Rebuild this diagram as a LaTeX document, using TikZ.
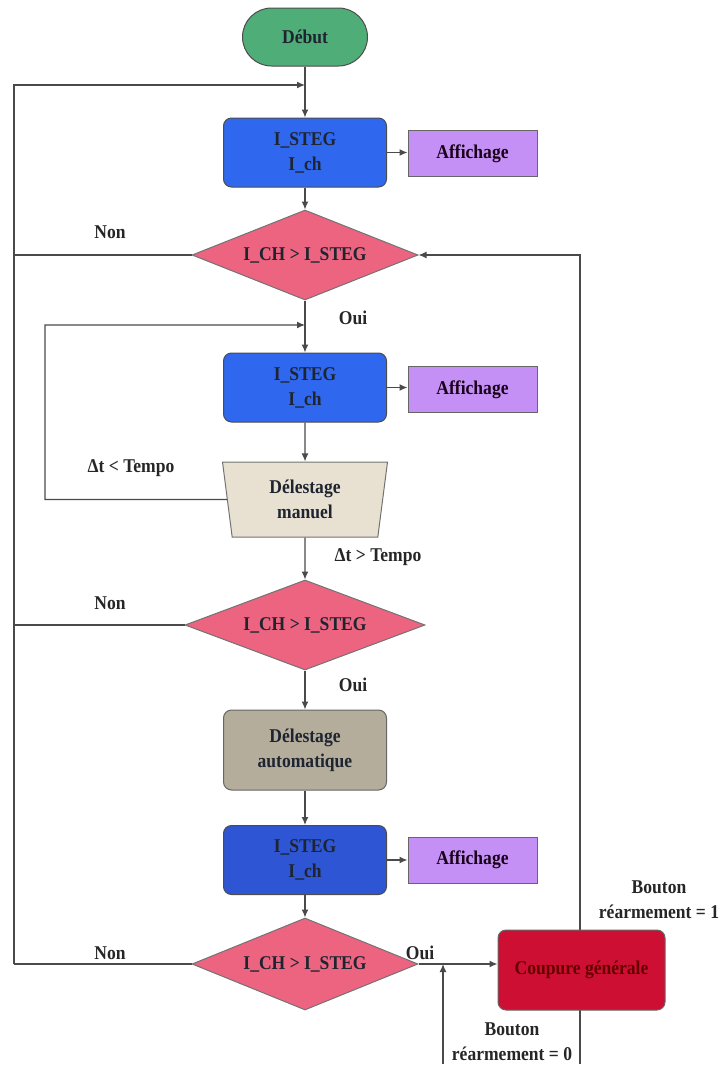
\documentclass[tikz,border=0pt]{standalone}
\usepackage{fontspec}
\setmainfont{Liberation Serif}[FakeStretch=0.9]
\usetikzlibrary{shapes.geometric,arrows.meta}
\definecolor{lineg}{HTML}{4A4A4A}
\definecolor{cgreen}{HTML}{4FAE78}
\definecolor{cblue}{HTML}{2F68EE}
\definecolor{cblueb}{HTML}{2E55D4}
\definecolor{cpurple}{HTML}{C590F5}
\definecolor{cpink}{HTML}{EC6480}
\definecolor{cbeige}{HTML}{E8E0D1}
\definecolor{cgrey}{HTML}{B4AD9C}
\definecolor{cred}{HTML}{CC0F33}
\definecolor{cdtext}{HTML}{1E2430}
\begin{document}
\begin{tikzpicture}[x=1pt,y=-1pt,
  every node/.style={font=\bfseries\fontsize{19.5}{25}\selectfont, text=cdtext, align=center, inner sep=0pt},
  conn/.style={draw=lineg, line width=1.3pt, -{Latex[length=8pt,width=7pt]}},
  plain/.style={draw=lineg, line width=1.3pt},
  bluebox/.style={draw=black!70, line width=1pt, fill=cblue, rounded corners=8pt, minimum width=163pt, minimum height=69pt},
  affbox/.style={draw=black!60, line width=1pt, fill=cpurple, minimum width=129pt, minimum height=46pt, text=black!80!violet},
  decision/.style={diamond, draw=black!55, line width=1pt, fill=cpink, aspect=2.5},
  lbl/.style={text=black!85}
]
\useasboundingbox (0,0) rectangle (726,1068);

\node[draw=black!70, line width=1pt, fill=cgreen, rounded corners=29pt, minimum width=125pt, minimum height=58pt] (debut) at (305,37) {Début};
\node[bluebox] (box1) at (305,152.5) {I\_STEG\\I\_ch};
\node[affbox] (aff1) at (472.5,153.5) {Affichage};
\node[decision, minimum width=226pt, minimum height=90pt] (d1) at (305,255) {I\_CH > I\_STEG};
\node[bluebox] (box2) at (305,387.5) {I\_STEG\\I\_ch};
\node[affbox] (aff2) at (472.5,389.5) {Affichage};
\node[trapezium, trapezium left angle=104, trapezium right angle=104, trapezium stretches body, draw=black!55, line width=1pt, fill=cbeige, minimum width=165pt, minimum height=75pt] (trap) at (305,499.5) {Délestage\\manuel};
\node[decision, minimum width=240pt, minimum height=90pt] (d2) at (305,625) {I\_CH > I\_STEG};
\node[draw=black!60, line width=1pt, fill=cgrey, rounded corners=8pt, minimum width=163pt, minimum height=80pt] (auto) at (305,750) {Délestage\\automatique};
\node[bluebox, fill=cblueb] (box3) at (305,860) {I\_STEG\\I\_ch};
\node[affbox] (aff3) at (472.5,860) {Affichage};
\node[decision, minimum width=226pt, minimum height=92pt] (d3) at (305,964) {I\_CH > I\_STEG};

% coordinates
\coordinate (J1) at (305,85);
\coordinate (L1) at (14,85);
\coordinate (L3) at (14,964);
\coordinate (J2) at (305,325);
\coordinate (M1) at (45,325);
\coordinate (M2) at (45,499.5);
\coordinate (R0) at (580,1064);
\coordinate (R1) at (580,255);
\coordinate (B0) at (443,1064);
\coordinate (B1) at (443,964);

% main flow
\draw[conn] (debut.south) -- (box1.north);
\draw[conn] (L3) -- (L1) -- (J1);
\draw[plain] (d3.west) -- (L3);
\draw[plain] (d1.west) -- (d1.west -| L1);
\draw[plain] (d2.west) -- (d2.west -| L1);
\draw[conn] (box1.east) -- (aff1.west |- box1.east);
\draw[conn] (box1.south) -- (d1.north);
\draw[conn] (d1.south) -- (box2.north);
\draw[conn] (trap.west) -- (M2) -- (M1) -- (J2);
\draw[conn] (box2.east) -- (aff2.west |- box2.east);
\draw[conn] (box2.south) -- (trap.north);
\draw[conn] (trap.south) -- (d2.north);
\draw[conn] (d2.south) -- (auto.north);
\draw[conn] (auto.south) -- (box3.north);
\draw[conn] (box3.east) -- (aff3.west);
\draw[conn] (box3.south) -- (d3.north);
\draw[conn] (B0) -- (B1);
\draw[conn] (R0) -- (R1) -- (d1.east);

\node[draw=black!60, line width=1pt, fill=cred, rounded corners=8pt, minimum width=167pt, minimum height=80pt, text=black!60!red] (coup) at (581.5,970) {Coupure générale};
\draw[conn] (d3.east) -- (d3.east -| coup.west);

% labels
\node[lbl] (n1) at (110,232) {Non};
\node[lbl] (n2) at (110,603) {Non};
\node[lbl] (n3) at (110,953) {Non};
\node[lbl] (o1) at (353,318) {Oui};
\node[lbl] (o2) at (353,685) {Oui};
\node[lbl] (o3) at (420,953) {Oui};
\node[lbl] (dt1) at (131,468) {Δt < Tempo};
\node[lbl] (dt2) at (378,557) {Δt > Tempo};
\node[lbl] (b1) at (659,900) {Bouton\\réarmement = 1};
\node[lbl] (b0) at (512,1042) {Bouton\\réarmement = 0};
\end{tikzpicture}
\end{document}
